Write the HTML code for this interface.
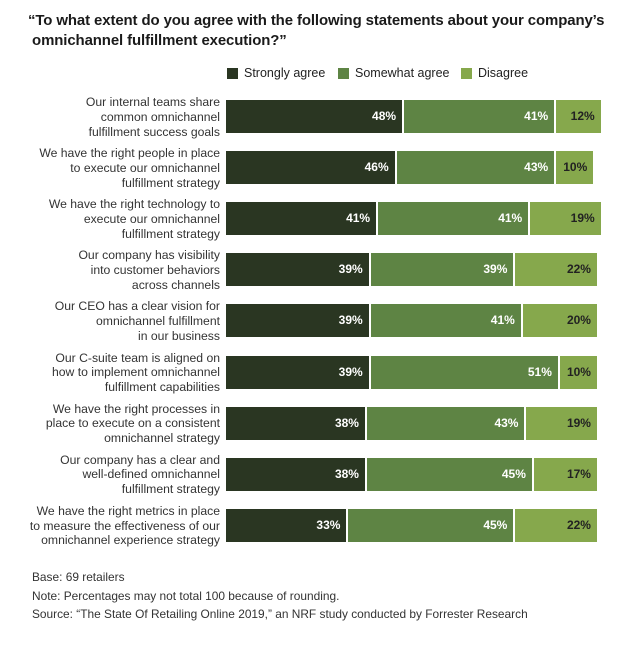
<!DOCTYPE html>
<html><head><meta charset="utf-8"><style>
body{margin:0;width:629px;height:646px;background:#fff;font-family:"Liberation Sans",Arial,sans-serif;position:relative;overflow:hidden;color:#222}
.t{position:absolute;left:28px;top:11px;font-weight:bold;font-size:14.95px;line-height:20px;color:#1a1a1a;white-space:nowrap;letter-spacing:-0.1px}
.lg{position:absolute;top:66px;font-size:12.5px;display:flex;align-items:center}
.lg i{display:inline-block;width:11px;height:11px;margin-right:6px}
.row{position:absolute;left:0;width:629px;height:33px}
.lab{position:absolute;right:409px;top:-5px;width:220px;text-align:right;font-size:12.2px;line-height:14.8px;color:#333}
.bar{position:absolute;left:226px;top:0;height:33px;display:flex}
.bar div{height:33px;box-sizing:border-box;border-right:2px solid #fff;font-weight:bold;font-size:12px;color:#fff;text-align:right;padding-right:6px;line-height:33px}
.bar div:last-child{border-right:none;color:#222}
.a{background:#2a3622}.b{background:#5e8444}.c{background:#86a84c}
.f{position:absolute;left:32px;font-size:11.9px;color:#333}
</style></head><body>
<div class="t">“To what extent do you agree with the following statements about your company’s<br>&nbsp;omnichannel fulfillment execution?”</div>
<div class="lg" style="left:227px"><i class="a"></i>Strongly agree</div>
<div class="lg" style="left:338px"><i class="b"></i>Somewhat agree</div>
<div class="lg" style="left:461px"><i class="c"></i>Disagree</div>
<div id="rows"></div>
<div class="f" style="top:570px">Base: 69 retailers</div>
<div class="f" style="top:589px">Note: Percentages may not total 100 because of rounding.</div>
<div class="f" style="top:607px">Source: “The State Of Retailing Online 2019,” an NRF study conducted by Forrester Research</div>
<script>
var d=[["Our internal teams share<br>common omnichannel<br>fulfillment success goals",48,41,12],
["We have the right people in place<br>to execute our omnichannel<br>fulfillment strategy",46,43,10],
["We have the right technology to<br>execute our omnichannel<br>fulfillment strategy",41,41,19],
["Our company has visibility<br>into customer behaviors<br>across channels",39,39,22],
["Our CEO has a clear vision for<br>omnichannel fulfillment<br>in our business",39,41,20],
["Our C-suite team is aligned on<br>how to implement omnichannel<br>fulfillment capabilities",39,51,10],
["We have the right processes in<br>place to execute on a consistent<br>omnichannel strategy",38,43,19],
["Our company has a clear and<br>well-defined omnichannel<br>fulfillment strategy",38,45,17],
["We have the right metrics in place<br>to measure the effectiveness of our<br>omnichannel experience strategy",33,45,22]];
var h="";d.forEach(function(r,i){var y=100+i*51.1,s=3.71;
h+='<div class="row" style="top:'+y+'px"><div class="lab">'+r[0]+'</div><div class="bar"><div class="a" style="width:'+(r[1]*s)+'px">'+r[1]+'%</div><div class="b" style="width:'+(r[2]*s)+'px">'+r[2]+'%</div><div class="c" style="width:'+(r[3]*s)+'px">'+r[3]+'%</div></div></div>';});
document.getElementById("rows").innerHTML=h;
</script>
</body></html>
